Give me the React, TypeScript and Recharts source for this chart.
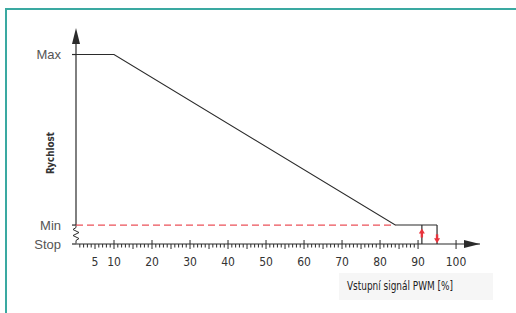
import React from 'react';
import { ComposedChart, Line, XAxis, YAxis, ReferenceLine, ReferenceDot } from 'recharts';

// speed levels on the y axis (Stop / Min / Max)
const speedLevels = [0, 1, 10];
const speedLabels = ['Stop', 'Min', 'Max'];

// control curve: PWM input [%] -> speed level
const curveX = [0, 10, 84, 95];
const curveY = [10, 10, 1, 1];

// hysteresis band at the stop point
const hysteresisX = [91, 95];
const hysteresisDir = ['up', 'down'];
const hysteresisArrowY = [0.55, 0.3];

const pwmLabels = [5, 10, 20, 30, 40, 50, 60, 70, 80, 90, 100];
const minorTicks = Array.from({ length: 90 }, (_, i) => i + 1);

const X_MAX = 106.3;
const Y_MAX = 11.4;

const curveData = curveX.map((x, i) => ({ x, y: curveY[i] }));

const AXIS = '#2b2b2b';
const RED = '#e8333c';
const DIN = '"DejaVu Sans Condensed", "Liberation Sans Narrow", sans-serif';

const PwmTick = ({ x, y, payload }: any) => {
  const v = payload.value;
  const major = v % 10 === 0;
  const mid = v % 5 === 0;
  return (
    <g>
      <line x1={x} x2={x} y1={major ? y - 4 : y} y2={y + (mid ? 5 : 3.5)} stroke={AXIS} strokeWidth={1} />
      {pwmLabels.includes(v) && (
        <text x={x} y={y + 22} textAnchor="middle" fontSize={12} fill="#333" fontFamily={DIN}>
          {v}
        </text>
      )}
    </g>
  );
};

const SpeedTick = ({ x, y, payload }: any) => {
  const idx = speedLevels.indexOf(payload.value);
  return (
    <text x={x} y={y} dy="0.36em" textAnchor="end" fontSize={13} fill="#555" fontFamily='"Liberation Sans", Arial, sans-serif'>
      {speedLabels[idx]}
    </text>
  );
};

const UpArrowHead = ({ cx, cy }: any) => (
  <polygon points={`${cx},${cy} ${cx - 4},${cy + 16} ${cx + 4},${cy + 16}`} fill={AXIS} />
);

const RightArrowHead = ({ cx, cy }: any) => (
  <polygon points={`${cx},${cy} ${cx - 16},${cy - 4} ${cx - 16},${cy + 4}`} fill={AXIS} />
);

const AxisBreak = ({ cx, cy }: any) => (
  <polyline
    points={`${cx},${cy - 9} ${cx},${cy - 7} ${cx - 3},${cy - 5} ${cx + 3},${cy - 2} ${cx - 3},${cy + 1} ${cx + 3},${cy + 4} ${cx},${cy + 6} ${cx},${cy + 9}`}
    fill="none"
    stroke={AXIS}
    strokeWidth={1}
  />
);

const RedArrow = (dir: string) => ({ cx, cy }: any) => {
  if (dir === 'up') {
    return (
      <g>
        <line x1={cx} x2={cx} y1={cy + 4} y2={cy - 1} stroke={RED} strokeWidth={2.4} />
        <polygon points={`${cx},${cy - 5} ${cx - 3},${cy} ${cx + 3},${cy}`} fill={RED} />
      </g>
    );
  }
  return (
    <g>
      <line x1={cx} x2={cx} y1={cy - 4} y2={cy + 1} stroke={RED} strokeWidth={2.4} />
      <polygon points={`${cx},${cy + 5} ${cx - 3},${cy} ${cx + 3},${cy}`} fill={RED} />
    </g>
  );
};

export default function App() {
  return (
    <div style={{ position: 'absolute', left: 0, top: 0, width: 516, height: 313, background: '#fff' }}>
      <div style={{ position: 'absolute', left: 5, top: 8, width: 2, height: 305, background: '#3aa9a1' }} />
      <div style={{ position: 'absolute', left: 5, top: 8, width: 511, height: 2, background: '#3aa9a1' }} />
      <ComposedChart
        width={516}
        height={313}
        data={curveData}
        margin={{ top: 28, right: 36, bottom: 0, left: 0 }}
        style={{ position: 'absolute', left: 0, top: 0 }}
      >
        <XAxis
          dataKey="x"
          type="number"
          domain={[0, X_MAX]}
          ticks={[...minorTicks, 100]}
          interval={0}
          height={69}
          tickSize={0}
          tickMargin={0}
          tickLine={false}
          axisLine={{ stroke: AXIS, strokeWidth: 1.2 }}
          tick={<PwmTick />}
          label={{
            content: () => (
              <g>
                <rect x={339} y={273} width={154} height={27} fill="#f6f6f6" />
                <text
                  x={347}
                  y={290}
                  textLength={106}
                  lengthAdjust="spacingAndGlyphs"
                  fontSize={13}
                  fill="#222"
                  fontFamily={DIN}
                >
                  Vstupní signál PWM [%]
                </text>
              </g>
            ),
          }}
        />
        <YAxis
          type="number"
          domain={[0, Y_MAX]}
          ticks={speedLevels}
          interval={0}
          width={76}
          tickSize={4}
          tickMargin={11}
          axisLine={false}
          tickLine={{ stroke: AXIS, strokeWidth: 1.2 }}
          tick={<SpeedTick />}
          label={{
            content: () => (
              <text
                transform="translate(54,153) rotate(-90)"
                textAnchor="middle"
                fontSize={11}
                fontWeight={600}
                textLength={42}
                lengthAdjust="spacingAndGlyphs"
                fill="#333"
                fontFamily={DIN}
              >
                Rychlost
              </text>
            ),
          }}
        />
        {/* y axis with a break between Stop and Min */}
        <ReferenceLine segment={[{ x: 0, y: 1 }, { x: 0, y: Y_MAX - 0.6 }]} stroke={AXIS} strokeWidth={1.2} />
        <ReferenceDot x={0} y={0.5} shape={<AxisBreak />} />
        <ReferenceDot x={0} y={Y_MAX} shape={<UpArrowHead />} />
        <ReferenceDot x={X_MAX} y={0} shape={<RightArrowHead />} />

        <ReferenceLine
          segment={[{ x: 0, y: speedLevels[1] }, { x: curveX[2], y: speedLevels[1] }]}
          stroke={RED}
          strokeOpacity={0.85}
          strokeWidth={1.3}
          strokeDasharray="7 4"
        />
        {hysteresisX.map((hx) => (
          <ReferenceLine
            key={hx}
            segment={[{ x: hx, y: 0 }, { x: hx, y: speedLevels[1] }]}
            stroke="#555"
            strokeWidth={1.5}
          />
        ))}
        <Line
          dataKey="y"
          type="linear"
          stroke={AXIS}
          strokeWidth={1.1}
          dot={false}
          isAnimationActive={false}
        />
        {hysteresisX.map((hx, i) => (
          <ReferenceDot key={`a${hx}`} x={hx} y={hysteresisArrowY[i]} shape={RedArrow(hysteresisDir[i])} />
        ))}
      </ComposedChart>
    </div>
  );
}
